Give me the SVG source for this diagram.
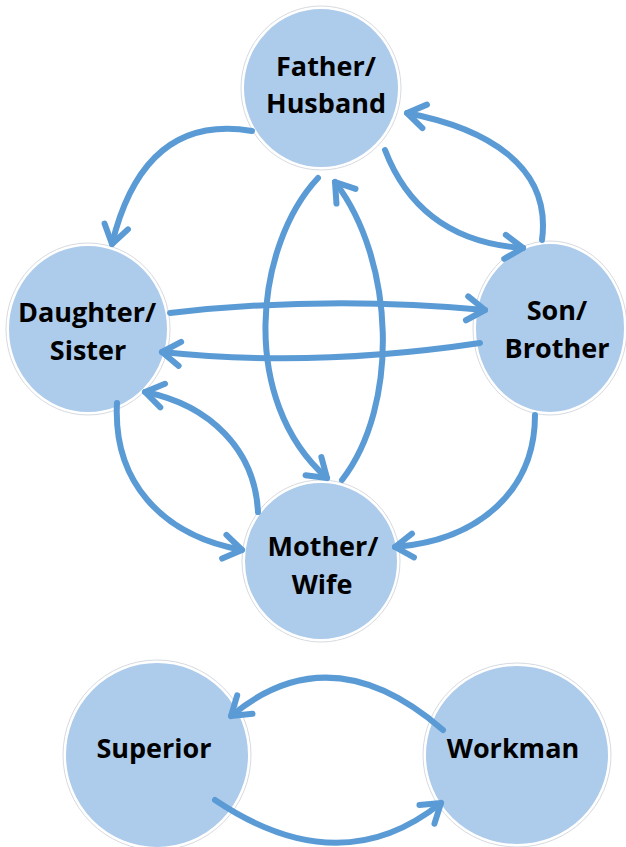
<svg xmlns="http://www.w3.org/2000/svg" width="626" height="847" viewBox="0 0 626 847">
  <style>
    .node { fill: #ADCBEA; stroke: #FFFFFF; stroke-width: 2; }
    .rim { fill: none; stroke: #D6DAE0; stroke-width: 1; }
    .lbl { font-family: "Open Sans", "Noto Sans", "Liberation Sans", sans-serif; font-weight: 700; font-size: 27px; fill: #000000; text-anchor: middle; }
    .edge { fill: none; stroke: #5B9BD5; stroke-width: 6; stroke-linecap: round; marker-end: url(#arr); }
  </style>
  <defs>
    <marker id="arr" markerUnits="userSpaceOnUse" orient="auto" refX="0" refY="0" markerWidth="40" markerHeight="40" overflow="visible">
      <path d="M-18,-12 L0,0 L-18,12" fill="none" stroke="#5B9BD5" stroke-width="6" stroke-linecap="round" stroke-linejoin="round"/>
    </marker>
  </defs>
  <rect width="626" height="847" fill="#FFFFFF"/>

  <g id="father">
    <ellipse class="rim" cx="321" cy="88" rx="80" ry="82"/>
    <ellipse class="node" cx="321" cy="88" rx="78" ry="80"/>
    <text class="lbl" x="326" y="76">Father/</text>
    <text class="lbl" x="326" y="113">Husband</text>
  </g>
  <g id="daughter">
    <ellipse class="rim" cx="88" cy="329" rx="82" ry="86"/>
    <ellipse class="node" cx="88" cy="329" rx="80" ry="84"/>
    <text class="lbl" x="87" y="322">Daughter/</text>
    <text class="lbl" x="88" y="360">Sister</text>
  </g>
  <g id="son">
    <ellipse class="rim" cx="550" cy="328" rx="77" ry="87"/>
    <ellipse class="node" cx="550" cy="328" rx="75" ry="85"/>
    <text class="lbl" x="557" y="320">Son/</text>
    <text class="lbl" x="557" y="358">Brother</text>
  </g>
  <g id="mother">
    <ellipse class="rim" cx="321" cy="561" rx="79" ry="81"/>
    <ellipse class="node" cx="321" cy="561" rx="77" ry="79"/>
    <text class="lbl" x="323" y="556">Mother/</text>
    <text class="lbl" x="322" y="594">Wife</text>
  </g>
  <g id="superior">
    <ellipse class="rim" cx="157" cy="755" rx="94" ry="95"/>
    <ellipse class="node" cx="157" cy="755" rx="92" ry="93"/>
    <text class="lbl" x="154" y="758">Superior</text>
  </g>
  <g id="workman">
    <ellipse class="rim" cx="517" cy="755" rx="94" ry="92"/>
    <ellipse class="node" cx="517" cy="755" rx="92" ry="90"/>
    <text class="lbl" x="513" y="758">Workman</text>
  </g>

  <g id="connectors">
    <path class="edge" d="M252,131 Q144,113 112,244"/>
    <path class="edge" d="M542,240 C552,165 485,128 407,113"/>
    <path class="edge" d="M385,150 Q420,241 523,248"/>
    <path class="edge" d="M318,178 C255,245 238,400 327,478"/>
    <path class="edge" d="M342,480 C400,405 395,260 335,182"/>
    <path class="edge" d="M170,313 Q327,295 485,310"/>
    <path class="edge" d="M480,343 Q313,368 162,352"/>
    <path class="edge" d="M117,403 C113,480 160,535 242,550"/>
    <path class="edge" d="M258,512 C255,450 210,405 145,392"/>
    <path class="edge" d="M535,415 C535,490 480,540 395,547"/>
    <path class="edge" d="M443,730 Q331,633 231,716"/>
    <path class="edge" d="M215,800 Q340,884 441,803"/>
  </g>
</svg>
